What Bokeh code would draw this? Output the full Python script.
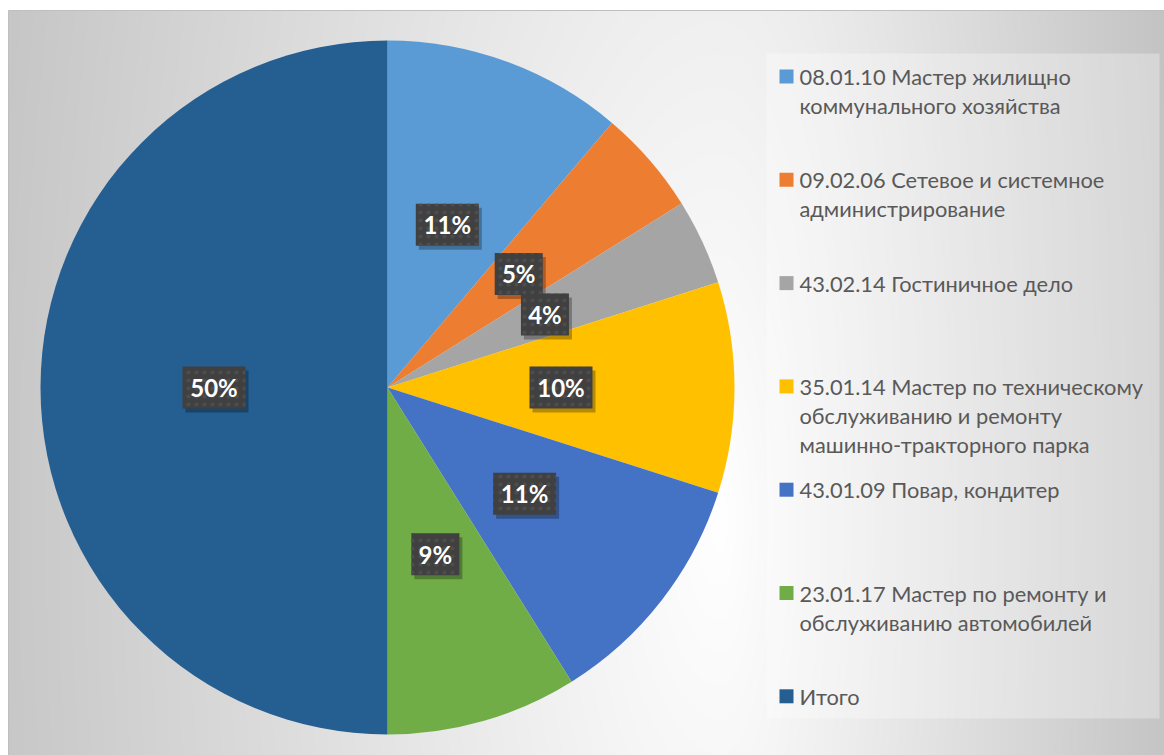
import numpy as np
from bokeh.plotting import figure
from bokeh.models import Range1d
from bokeh.core.properties import value
from bokeh.embed import file_html
from bokeh.resources import INLINE

# ---- data ----
categories = [
    "08.01.10 Мастер жилищно\nкоммунального хозяйства",
    "09.02.06 Сетевое и системное\nадминистрирование",
    "43.02.14 Гостиничное дело",
    "35.01.14 Мастер по техническому\nобслуживанию и ремонту\nмашинно-тракторного парка",
    "43.01.09 Повар, кондитер",
    "23.01.17 Мастер по ремонту и\nобслуживанию автомобилей",
    "Итого",
]
shares = [11.2, 4.9, 4.0, 9.8, 11.2, 8.9, 50.0]
colors = ["#5B9BD5", "#ED7D31", "#A5A5A5", "#FFC000", "#4472C4", "#70AD47", "#255E91"]

W, H = 1164, 755
p = figure(width=W, height=H, x_range=Range1d(0, W), y_range=Range1d(0, H),
           output_backend="svg", toolbar_location=None, min_border=0,
           x_axis_location=None, y_axis_location=None)
p.grid.visible = False
p.outline_line_color = None
p.background_fill_color = "white"
p.border_fill_color = "white"

# ---- background gradient (chart area) ----
gx0, gy0 = 8, 10
gw, gh = W - gx0, H - gy0
xs = np.arange(gw) + gx0 + 0.5
ys = np.arange(gh) + gy0 + 0.5
X, Y = np.meshgrid(xs, ys)
gcx, gcy = 720, 520
dx = X - gcx
hx = np.where(dx < 0, -dx * 0.077, dx * 0.13)
vy = np.abs(Y - gcy) * 0.03
v = np.clip(255 - np.sqrt(hx ** 2 + vy ** 2), 0, 255).astype(np.uint8)
img = np.empty((gh, gw), dtype=np.uint32)
view = img.view(dtype=np.uint8).reshape((gh, gw, 4))
view[..., 0] = v
view[..., 1] = v
view[..., 2] = v
view[..., 3] = 255
p.image_rgba(image=[img[::-1]], x=gx0, y=0, dw=gw, dh=gh)
p.quad(left=gx0, right=W + 2, top=H - gy0, bottom=-2, fill_color=None,
       line_color="#bfbfbf", line_width=1)

# ---- legend panel ----
p.quad(left=766, right=1159, top=H - 53, bottom=H - 718, fill_color="white",
       fill_alpha=0.3, line_color=None)

# ---- pie ----
cx, cy, r = 387, H - 387, 347
frac = np.array(shares) / sum(shares)
cum = np.concatenate([[0.0], np.cumsum(frac)])
start = np.pi / 2 - 2 * np.pi * cum[1:]
end = np.pi / 2 - 2 * np.pi * cum[:-1]
p.wedge(x=cx, y=cy, radius=r, start_angle=start, end_angle=end,
        fill_color=colors, line_color=None)

# ---- data labels ----
mid = (cum[:-1] + cum[1:]) / 2
ang = np.pi / 2 - 2 * np.pi * mid
lx = cx + 0.5 * r * np.cos(ang)
ly = cy + 0.5 * r * np.sin(ang)
texts = [f"{round(s)}%" for s in shares]
bw = [18 + 15 * len(t) for t in texts]
p.rect(x=lx + 3, y=ly - 4, width=bw, height=42, fill_color="black",
       fill_alpha=0.28, line_color=None)
p.rect(x=lx, y=ly, width=bw, height=42, fill_color="#404040", line_color=None,
       hatch_pattern="dot", hatch_color="#4d4d4d", hatch_scale=8, hatch_weight=1.5)
p.text(x=lx, y=ly, text=texts, text_color="white", text_font=value("Lato"),
       text_font_style="bold", text_font_size="24px", text_align="center",
       text_baseline="middle")

# ---- legend ----
item_y0, item_step, line_step = 76, 103.3, 29
sq_x, sq_y, tx, ty, tt = [], [], [], [], []
for i, cat in enumerate(categories):
    y0 = item_y0 + i * item_step
    sq_x.append(786)
    sq_y.append(H - y0)
    for j, line in enumerate(cat.split("\n")):
        tx.append(799)
        ty.append(H - (y0 + j * line_step))
        tt.append(line)
p.rect(x=sq_x, y=sq_y, width=14, height=14, fill_color=colors, line_color=None)
p.text(x=tx, y=ty, text=tt, text_color="#595959", text_font=value("Lato"),
       text_font_size="21.8px", text_align="left", text_baseline="middle")

open("out.html", "w").write(file_html(p, INLINE))
